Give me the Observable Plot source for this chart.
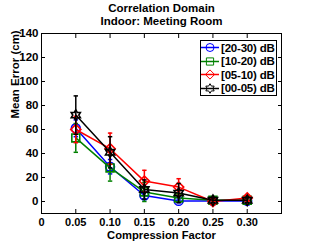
<!DOCTYPE html>
<html>
<head>
<meta charset="utf-8">
<script src="https://cdn.jsdelivr.net/npm/d3@7"></script>
<script src="https://cdn.jsdelivr.net/npm/@observablehq/plot@0.6"></script>
<style>
  html, body { margin: 0; padding: 0; background: #fff; }
  #wrap { position: relative; width: 312px; height: 241px; }
  #legend { position: absolute; left: 200px; top: 40px; width: 77px; height: 56px;
    border: 1px solid #000; background: #fff; box-sizing: border-box; padding-top: 0px;
    font: bold 11.5px "Liberation Sans", Arial, sans-serif; white-space: nowrap; overflow: hidden; }
  .row { display: flex; align-items: center; height: 13.5px; white-space: nowrap; }
  .row svg { display: block; flex: none; }
  .row span { letter-spacing: -0.2px; }
</style>
</head>
<body>
<div id="wrap"><div id="legend"></div></div>
<script>
// ---- data ----
const compression = [0.05, 0.10, 0.15, 0.20, 0.25, 0.30];
const seriesNames = ["[20-30) dB", "[10-20) dB", "[05-10) dB", "[00-05) dB"];
const seriesColors = ["#0000ff", "#008000", "#ff0000", "#000000"];
const mean2030 = [61, 29, 5, 0.5, 0.5, 0.5];
const err2030  = [7, 6, 3, 1.5, 1, 1];
const mean1020 = [53, 28, 8, 3, 1, 1];
const err1020  = [12, 11, 8, 3, 1, 1];
const mean0510 = [60, 44, 17, 12, 0, 3];
const err0510  = [11, 13, 9, 7, 2, 2];
const mean0005 = [72, 41, 10, 7, 1, 1];
const err0005  = [16, 13, 8, 8, 2, 2];
const xTicks = [0, 0.05, 0.10, 0.15, 0.20, 0.25, 0.30];
const xTickLabels = ["0", "0.05", "0.10", "0.15", "0.20", "0.25", "0.30"];
const yTicks = [0, 20, 40, 60, 80, 100, 120, 140];
const titleText = "Correlation Domain\nIndoor: Meeting Room";
const xLabel = "Compression Factor";
const yLabel = "Mean Error (cm)";

const means = [mean2030, mean1020, mean0510, mean0005];
const errs = [err2030, err1020, err0510, err0005];

// ---- custom symbols ----
const hline = {draw(ctx, size) { const r = Math.sqrt(size / Math.PI); ctx.moveTo(-r, 0); ctx.lineTo(r, 0); }};
const circ = {draw(ctx, size) { const r = Math.sqrt(size / Math.PI); ctx.moveTo(r, 0); ctx.arc(0, 0, r, 0, 2 * Math.PI); ctx.closePath(); }};
const sq = {draw(ctx, size) { const r = Math.sqrt(size / Math.PI) * 0.9; ctx.moveTo(-r, -r); ctx.lineTo(r, -r); ctx.lineTo(r, r); ctx.lineTo(-r, r); ctx.closePath(); }};
const dia = {draw(ctx, size) { const r = Math.sqrt(size / Math.PI) * 1.15; ctx.moveTo(0, -r); ctx.lineTo(r, 0); ctx.lineTo(0, r); ctx.lineTo(-r, 0); ctx.closePath(); }};
const hexa = {draw(ctx, size) {
  const R = Math.sqrt(size / Math.PI) * 1.2, ri = R / Math.sqrt(3);
  for (let i = 0; i < 12; i++) {
    const a = -Math.PI / 2 + i * Math.PI / 6, rr = i % 2 ? ri : R;
    const px = rr * Math.cos(a), py = rr * Math.sin(a);
    if (i === 0) ctx.moveTo(px, py); else ctx.lineTo(px, py);
  }
  ctx.closePath();
}};
const symbols = [circ, sq, dia, hexa];

const rows = [];
seriesNames.forEach((s, i) => compression.forEach((c, j) => rows.push({s, i, x: c, y: means[i][j], lo: means[i][j] - errs[i][j], hi: means[i][j] + errs[i][j]})));

const font = '"Liberation Sans", Arial, sans-serif';
const marks = [
  Plot.frame({stroke: "black", strokeWidth: 1}),
  Plot.axisY(yTicks, {anchor: "left", tickSize: -4, tickPadding: 7, label: null, tickFormat: d => String(d), fontSize: 11.5}),
  Plot.axisY(yTicks, {anchor: "right", tickSize: -4, label: null, tickFormat: () => ""}),
  Plot.axisX(xTicks, {anchor: "bottom", tickSize: -4, tickPadding: 9, label: null, tickFormat: (d, i) => xTickLabels[i], fontSize: 11}),
  Plot.axisX(xTicks, {anchor: "top", tickSize: -4, label: null, tickFormat: () => ""}),
];
seriesNames.forEach((s, i) => {
  const d = rows.filter(r => r.i === i);
  const col = seriesColors[i];
  marks.push(
    Plot.ruleX(d, {x: "x", y1: "lo", y2: "hi", stroke: col, strokeWidth: 1.5}),
    Plot.dot(d, {x: "x", y: "lo", symbol: hline, r: 2.2, stroke: col, strokeWidth: 1.5}),
    Plot.dot(d, {x: "x", y: "hi", symbol: hline, r: 2.2, stroke: col, strokeWidth: 1.5}),
    Plot.line(d, {x: "x", y: "y", stroke: col, strokeWidth: 1.5}),
    Plot.dot(d, {x: "x", y: "y", symbol: symbols[i], r: 4.4, stroke: col, strokeWidth: 1.6, fill: "none"})
  );
});
marks.push(
  Plot.text([titleText], {text: d => d, frameAnchor: "top", lineAnchor: "bottom", dy: -9, lineHeight: 1.13, fontWeight: "bold", fontSize: 11.5}),
  Plot.text([xLabel], {text: d => d, frameAnchor: "bottom", lineAnchor: "bottom", dy: 25, fontWeight: "bold", fontSize: 11.2}),
  Plot.text([yLabel], {text: d => d, frameAnchor: "left", rotate: -90, dx: -26, dy: -5, fontWeight: "bold", fontSize: 11.5})
);

const chart = Plot.plot({
  width: 312, height: 241,
  marginLeft: 41, marginRight: 31, marginTop: 33, marginBottom: 28,
  x: {domain: [0, 0.35]},
  y: {domain: [-10, 140]},
  style: {fontFamily: font, fontWeight: "bold", fontSize: "11.5px", color: "black", background: "white"},
  marks
});
document.getElementById("wrap").prepend(chart);

// ---- legend ----
const legend = d3.select("#legend");
seriesNames.forEach((s, i) => {
  const row = legend.append("div").attr("class", "row");
  const svg = row.append("svg").attr("width", 20).attr("height", 13);
  svg.append("line").attr("x1", 0).attr("x2", 18).attr("y1", 6.5).attr("y2", 6.5).attr("stroke", seriesColors[i]).attr("stroke-width", 1.5);
  svg.append("path").attr("transform", "translate(9,6.5)")
    .attr("d", d3.symbol(symbols[i], Math.PI * 4 * 4)())
    .attr("fill", "none").attr("stroke", seriesColors[i]).attr("stroke-width", 1);
  row.append("span").text(s);
});
</script>
</body>
</html>
